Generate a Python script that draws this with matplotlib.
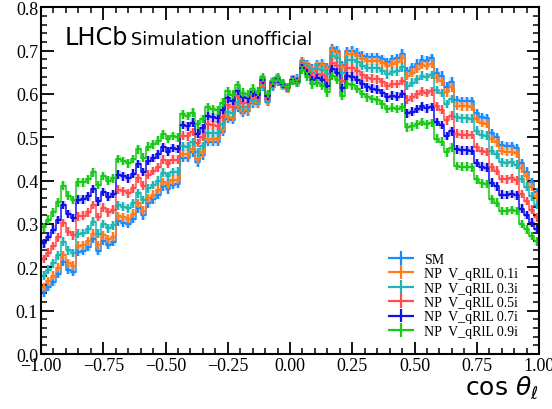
import numpy as np
import matplotlib
matplotlib.use("Agg")
import matplotlib.pyplot as plt
from matplotlib.ticker import MultipleLocator
from matplotlib.legend_handler import HandlerErrorbar
from matplotlib.container import ErrorbarContainer

bin_edges = np.linspace(-1.0, 1.0, 101)

sm = [0.142, 0.155, 0.167, 0.185, 0.213, 0.195, 0.190, 0.236, 0.238, 0.247,
      0.265, 0.238, 0.261, 0.252, 0.259, 0.306, 0.303, 0.300, 0.312, 0.336,
      0.320, 0.348, 0.357, 0.368, 0.387, 0.380, 0.391, 0.393, 0.453, 0.453,
      0.465, 0.442, 0.458, 0.489, 0.489, 0.490, 0.512, 0.542, 0.540, 0.568,
      0.557, 0.560, 0.578, 0.577, 0.616, 0.582, 0.617, 0.629, 0.620, 0.613,
      0.633, 0.635, 0.675, 0.668, 0.658, 0.669, 0.670, 0.662, 0.705, 0.700,
      0.667, 0.698, 0.700, 0.695, 0.688, 0.684, 0.684, 0.685, 0.680, 0.673,
      0.680, 0.683, 0.693, 0.653, 0.661, 0.670, 0.679, 0.677, 0.683, 0.649,
      0.642, 0.617, 0.628, 0.586, 0.584, 0.584, 0.583, 0.555, 0.546, 0.544,
      0.509, 0.501, 0.482, 0.480, 0.480, 0.475, 0.440, 0.421, 0.396, 0.373]

np_01 = [0.155, 0.168, 0.181, 0.199, 0.228, 0.209, 0.204, 0.250, 0.251, 0.260,
         0.278, 0.251, 0.274, 0.265, 0.271, 0.318, 0.315, 0.312, 0.324, 0.348,
         0.331, 0.359, 0.368, 0.379, 0.397, 0.390, 0.401, 0.402, 0.462, 0.461,
         0.473, 0.449, 0.465, 0.496, 0.495, 0.496, 0.518, 0.547, 0.545, 0.572,
         0.561, 0.563, 0.581, 0.579, 0.618, 0.584, 0.618, 0.630, 0.620, 0.613,
         0.633, 0.634, 0.673, 0.666, 0.655, 0.665, 0.666, 0.657, 0.700, 0.694,
         0.661, 0.692, 0.693, 0.688, 0.681, 0.676, 0.676, 0.676, 0.671, 0.664,
         0.670, 0.673, 0.682, 0.642, 0.649, 0.658, 0.667, 0.665, 0.670, 0.636,
         0.629, 0.604, 0.615, 0.573, 0.571, 0.571, 0.570, 0.542, 0.533, 0.531,
         0.496, 0.488, 0.469, 0.467, 0.467, 0.463, 0.428, 0.410, 0.385, 0.363]

np_03 = [0.181, 0.195, 0.209, 0.228, 0.259, 0.239, 0.233, 0.278, 0.279, 0.288,
         0.305, 0.278, 0.300, 0.290, 0.297, 0.343, 0.340, 0.336, 0.348, 0.371,
         0.355, 0.382, 0.390, 0.400, 0.418, 0.410, 0.420, 0.421, 0.479, 0.478,
         0.489, 0.465, 0.480, 0.510, 0.509, 0.509, 0.530, 0.559, 0.555, 0.582,
         0.569, 0.570, 0.587, 0.584, 0.622, 0.587, 0.620, 0.631, 0.621, 0.614,
         0.632, 0.632, 0.670, 0.661, 0.649, 0.658, 0.656, 0.647, 0.688, 0.682,
         0.648, 0.678, 0.679, 0.673, 0.665, 0.660, 0.659, 0.659, 0.653, 0.645,
         0.651, 0.652, 0.661, 0.619, 0.626, 0.634, 0.642, 0.639, 0.644, 0.609,
         0.602, 0.577, 0.588, 0.546, 0.544, 0.544, 0.543, 0.515, 0.506, 0.504,
         0.469, 0.461, 0.442, 0.441, 0.442, 0.437, 0.404, 0.386, 0.364, 0.344]

np_05 = [0.219, 0.234, 0.249, 0.269, 0.302, 0.282, 0.274, 0.318, 0.319, 0.327,
         0.344, 0.316, 0.338, 0.327, 0.333, 0.379, 0.375, 0.371, 0.382, 0.405,
         0.388, 0.414, 0.422, 0.431, 0.448, 0.439, 0.448, 0.448, 0.504, 0.502,
         0.512, 0.487, 0.501, 0.530, 0.528, 0.527, 0.547, 0.575, 0.570, 0.595,
         0.580, 0.580, 0.595, 0.591, 0.627, 0.591, 0.624, 0.634, 0.623, 0.614,
         0.631, 0.630, 0.665, 0.654, 0.640, 0.647, 0.643, 0.632, 0.672, 0.665,
         0.630, 0.659, 0.659, 0.652, 0.643, 0.637, 0.635, 0.634, 0.627, 0.618,
         0.623, 0.623, 0.630, 0.587, 0.592, 0.599, 0.606, 0.602, 0.606, 0.571,
         0.564, 0.539, 0.550, 0.508, 0.506, 0.506, 0.505, 0.477, 0.468, 0.466,
         0.431, 0.423, 0.404, 0.403, 0.405, 0.401, 0.369, 0.353, 0.333, 0.315]

np_07 = [0.255, 0.271, 0.287, 0.309, 0.344, 0.323, 0.314, 0.356, 0.357, 0.364,
         0.381, 0.352, 0.374, 0.363, 0.369, 0.414, 0.410, 0.405, 0.416, 0.438,
         0.420, 0.446, 0.452, 0.461, 0.477, 0.467, 0.475, 0.473, 0.528, 0.525,
         0.534, 0.508, 0.521, 0.549, 0.546, 0.544, 0.563, 0.590, 0.584, 0.607,
         0.592, 0.590, 0.604, 0.598, 0.633, 0.596, 0.627, 0.636, 0.624, 0.615,
         0.631, 0.627, 0.660, 0.647, 0.631, 0.636, 0.631, 0.618, 0.657, 0.649,
         0.613, 0.641, 0.640, 0.632, 0.622, 0.615, 0.612, 0.610, 0.602, 0.592,
         0.596, 0.594, 0.600, 0.555, 0.559, 0.565, 0.571, 0.567, 0.570, 0.535,
         0.528, 0.503, 0.514, 0.472, 0.470, 0.470, 0.469, 0.441, 0.432, 0.430,
         0.395, 0.387, 0.368, 0.367, 0.369, 0.366, 0.335, 0.321, 0.303, 0.288]

np_09 = [0.292, 0.310, 0.327, 0.350, 0.388, 0.365, 0.355, 0.396, 0.396, 0.403,
         0.419, 0.390, 0.411, 0.400, 0.405, 0.450, 0.445, 0.440, 0.450, 0.472,
         0.453, 0.478, 0.484, 0.492, 0.507, 0.496, 0.503, 0.500, 0.553, 0.549,
         0.557, 0.530, 0.542, 0.569, 0.565, 0.562, 0.580, 0.606, 0.598, 0.620,
         0.603, 0.600, 0.612, 0.605, 0.638, 0.600, 0.630, 0.638, 0.625, 0.615,
         0.630, 0.625, 0.655, 0.640, 0.622, 0.625, 0.618, 0.604, 0.641, 0.632,
         0.595, 0.622, 0.620, 0.611, 0.600, 0.592, 0.588, 0.585, 0.576, 0.565,
         0.568, 0.565, 0.569, 0.523, 0.525, 0.530, 0.535, 0.530, 0.533, 0.497,
         0.490, 0.465, 0.476, 0.434, 0.432, 0.432, 0.431, 0.403, 0.394, 0.392,
         0.357, 0.349, 0.330, 0.330, 0.332, 0.330, 0.300, 0.288, 0.272, 0.260]

stat_err = 0.010

labels = ["SM", "NP  V_qRlL 0.1i", "NP  V_qRlL 0.3i", "NP  V_qRlL 0.5i",
          "NP  V_qRlL 0.7i", "NP  V_qRlL 0.9i"]
series = [sm, np_01, np_03, np_05, np_07, np_09]
colors = ["#1a8cff", "#ff7b1c", "#1fb5b5", "#ff4d4d", "#1010e8", "#19c819"]

plt.rcParams['mathtext.fontset'] = 'dejavusans'

fig = plt.figure(figsize=(5.52, 4.10), dpi=100)
ax = fig.add_axes([0.0743, 0.134, 0.9022, 0.846])

edges = bin_edges
centers = 0.5 * (edges[:-1] + edges[1:])
half = 0.5 * (edges[1] - edges[0])

handles = []
for vals, col, lab in zip(series, colors, labels):
    v = np.asarray(vals)
    ax.stairs(v + stat_err, edges, baseline=v - stat_err, fill=True,
              color=col, alpha=0.22, lw=0)
    ax.stairs(v, edges, color=col, lw=1.1)
    h = ax.errorbar(centers, v, xerr=half, yerr=stat_err, fmt='none',
                    ecolor=col, elinewidth=1.6, capsize=0, label=lab)
    handles.append(h)

ax.set_xlim(-1.0, 1.0)
ax.set_ylim(0.0, 0.8)

ax.xaxis.set_major_locator(MultipleLocator(0.25))
ax.xaxis.set_minor_locator(MultipleLocator(0.05))
ax.yaxis.set_major_locator(MultipleLocator(0.1))
ax.yaxis.set_minor_locator(MultipleLocator(0.02))
ax.tick_params(which='both', direction='in', top=True, right=True)
ax.tick_params(which='major', length=9, width=1.3, labelsize=13, pad=2)
ax.tick_params(which='minor', length=4.5, width=1.1)
for s in ax.spines.values():
    s.set_linewidth(1.5)

ax.set_xticks(ax.get_xticks())
ax.set_xticklabels([f"{t:.2f}".replace("-", "\u2212") for t in ax.get_xticks()],
                   family="Liberation Serif")
ax.set_yticks(ax.get_yticks())
ax.set_yticklabels([f"{t:.1f}" for t in ax.get_yticks()], family="Liberation Serif")
ax.set_xlim(-1.0, 1.0)
ax.set_ylim(0.0, 0.8)

ax.set_xlabel(r'$\cos\,\theta_{\ell}$', fontsize=18, loc='right', labelpad=0)

ax.text(-0.905, 0.714, "LHCb", fontsize=17.3, family="DejaVu Sans")
ax.text(-0.638, 0.714, "Simulation unofficial", fontsize=12.8, family="DejaVu Sans")

leg = ax.legend(handles=handles, loc='lower left', frameon=False,
                prop={'family': 'Liberation Serif', 'size': 10},
                handlelength=1.9, handletextpad=0.7, labelspacing=0.1,
                borderaxespad=0.0, borderpad=0.3, bbox_to_anchor=(0.688, 0.035),
                handler_map={ErrorbarContainer: HandlerErrorbar(xerr_size=0.95, yerr_size=0.5)})

fig.savefig("out.png", dpi=100)
